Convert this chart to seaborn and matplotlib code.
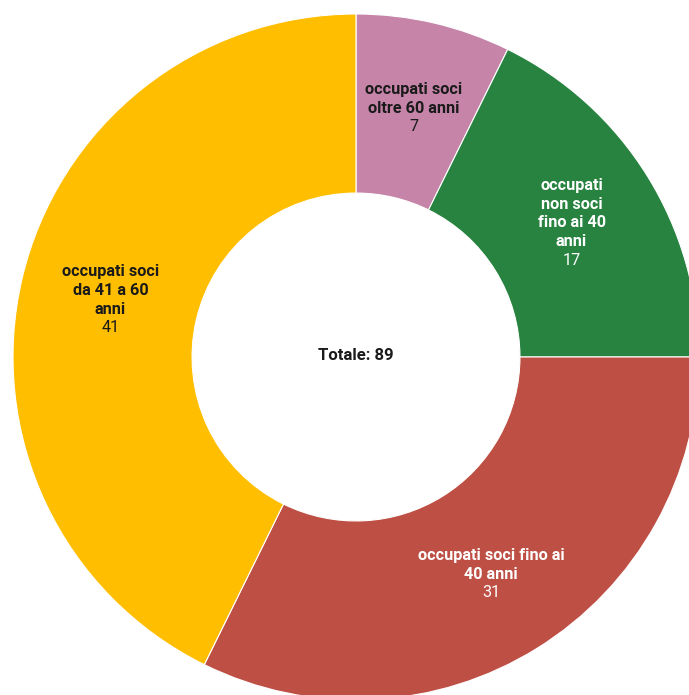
import numpy as np
import matplotlib
matplotlib.use("Agg")
import matplotlib.pyplot as plt
import seaborn as sns

categories = ["occupati soci oltre 60 anni",
              "occupati non soci fino ai 40 anni",
              "occupati soci fino ai 40 anni",
              "occupati soci da 41 a 60 anni"]
display_labels = ["occupati soci\noltre 60 anni",
                  "occupati\nnon soci\nfino ai 40\nanni",
                  "occupati soci fino ai\n40 anni",
                  "occupati soci\nda 41 a 60\nanni"]
values = [7, 17, 31, 41]
colors = ["#C584A8", "#27833F", "#BE4F44", "#FFBE00"]
text_colors = ["#1A1A1A", "#FFFFFF", "#FFFFFF", "#1A1A1A"]
total_label = "Totale: 89"

sns.set_theme(style="white")
plt.rcParams['font.family'] = ['Roboto', 'DejaVu Sans']

W, H = 689, 695
cx, cy, R = 356, 357, 343
fig = plt.figure(figsize=(W / 100, H / 100), dpi=100)
ax = fig.add_axes([0, 0, 1, 1])

wedges, _ = ax.pie(values, colors=colors, startangle=90, counterclock=False,
                   radius=1.0,
                   wedgeprops=dict(width=0.522, edgecolor="white", linewidth=0.8))
ax.set_xlim(-cx / R, (W - cx) / R)
ax.set_ylim(-(H - cy) / R, cy / R)
ax.set_aspect("equal")
ax.axis("off")

line_h = 18.7 / R
total = sum(values)
cum = 0
label_r = [0.745, 0.74, 0.745, 0.735]
for i, (lab, v) in enumerate(zip(display_labels, values)):
    mid = (cum + v / 2) / total * 2 * np.pi
    cum += v
    x = label_r[i] * np.sin(mid)
    y = label_r[i] * np.cos(mid)
    lines = lab.split("\n")
    n = len(lines) + 1
    top = y + (n - 1) / 2 * line_h
    for j, ln in enumerate(lines):
        ax.text(x, top - j * line_h, ln, ha="center", va="center",
                fontsize=11.7, fontweight="bold", color=text_colors[i])
    ax.text(x, top - len(lines) * line_h, str(v), ha="center", va="center",
            fontsize=11.7, color=text_colors[i])

ax.text(0, 0.005, total_label, ha="center", va="center", fontsize=12,
        fontweight="bold", color="#1A1A1A")

fig.savefig("out.png", dpi=100)
